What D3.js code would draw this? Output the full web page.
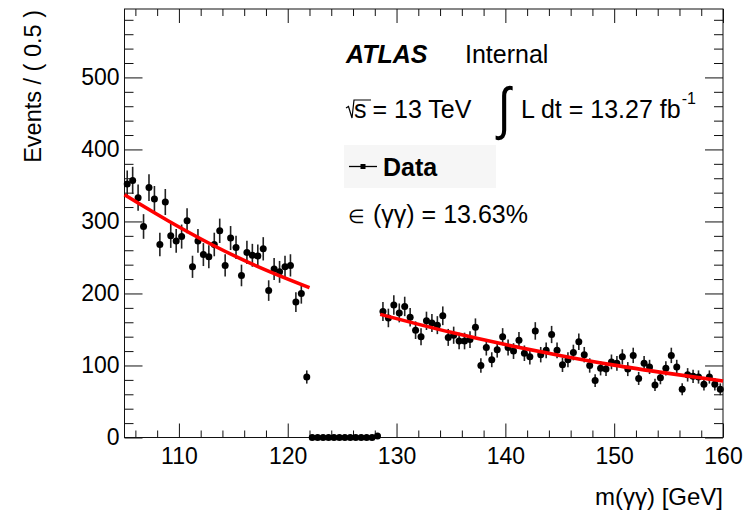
<!DOCTYPE html>
<html>
<head>
<meta charset="utf-8">
<script src="https://cdn.jsdelivr.net/npm/d3@7"></script>
<style>
  body { margin: 0; background: #fff; }
  svg { display: block; }
  text { font-family: "Liberation Sans", Arial, Helvetica, sans-serif; fill: #000; }
</style>
</head>
<body>
<div id="chart"></div>
<script>
// diphoton mass spectrum, 0.5 GeV bins from 105 to 160 (signal region blinded)
const massRange = [105, 160];
const binWidth = 0.5;
const counts = [
  352, 357, 333, 293, 347, 331, 268, 327, 280, 273,
  279, 301, 237, 273, 254, 251, 268, 287, 239, 277,
  264, 225, 257, 253, 252, 262, 204, 234, 230, 237,
  239, 188, 200, 84,
  0, 0, 0, 0, 0, 0, 0, 0, 0, 0, 0, 0, 2,
  175, 166, 184, 173, 182, 167, 149, 140, 162, 159,
  156, 169, 139, 142, 134, 134, 136, 153, 100, 125,
  108, 122, 140, 125, 120, 135, 117, 112, 148, 115,
  121, 143, 121, 101, 108, 118, 133, 115, 100, 79,
  96, 95, 105, 103, 112, 95, 114, 82, 103, 98,
  73, 83, 96, 114, 98, 67, 87, 85, 84, 74,
  84, 74, 67
];
// background fit, sidebands
const fitLowMass = [105, 109, 113, 117, 122];
const fitLowVal = [337, 301, 268, 239, 208];
const fitHighMass = [128.5, 135, 140, 145, 150, 155, 160];
const fitHighVal = [171, 146, 129, 114, 100.5, 89, 78.5];

const xMajor = [110, 120, 130, 140, 150, 160];
const yMajor = [0, 100, 200, 300, 400, 500];

const width = 756, height = 514;
const plotL = 124.5, plotR = 723, plotT = 9, plotB = 437.5;

const svg = d3.select("#chart").append("svg")
  .attr("width", width)
  .attr("height", height);

const x = d3.scaleLinear().domain(massRange).range([plotL, plotR]);
const y = d3.scaleLinear().domain([0, 595]).range([plotB, plotT]);

const xMinor = d3.range(106, 160, 2).filter(v => !xMajor.includes(v));
const yMinor = d3.range(20, 595, 20).filter(v => !yMajor.includes(v));

// axes, ROOT style ticks pointing inward
const gx = svg.append("g").attr("transform", `translate(0,${plotB})`)
  .call(d3.axisBottom(x).tickValues(xMajor).tickSizeInner(-14).tickSizeOuter(0).tickPadding(10));
svg.append("g").attr("transform", `translate(0,${plotB})`)
  .call(d3.axisBottom(x).tickValues(xMinor).tickSizeInner(-7).tickSizeOuter(0).tickFormat(""));
svg.append("g").attr("transform", `translate(0,${plotT})`)
  .call(d3.axisTop(x).tickValues(xMajor).tickSizeInner(-14).tickSizeOuter(0).tickFormat(""));
svg.append("g").attr("transform", `translate(0,${plotT})`)
  .call(d3.axisTop(x).tickValues(xMinor).tickSizeInner(-7).tickSizeOuter(0).tickFormat(""));

const gy = svg.append("g").attr("transform", `translate(${plotL},0)`)
  .call(d3.axisLeft(y).tickValues(yMajor).tickSizeInner(-18).tickSizeOuter(0).tickPadding(5));
svg.append("g").attr("transform", `translate(${plotL},0)`)
  .call(d3.axisLeft(y).tickValues(yMinor).tickSizeInner(-9).tickSizeOuter(0).tickFormat(""));
svg.append("g").attr("transform", `translate(${plotR},0)`)
  .call(d3.axisRight(y).tickValues(yMajor).tickSizeInner(-18).tickSizeOuter(0).tickFormat(""));
svg.append("g").attr("transform", `translate(${plotR},0)`)
  .call(d3.axisRight(y).tickValues(yMinor).tickSizeInner(-9).tickSizeOuter(0).tickFormat(""));

svg.selectAll(".domain").remove();
svg.selectAll(".tick line").attr("stroke", "#111").attr("stroke-width", 1);
gx.selectAll("text").style("font-size", "23px").attr("fill", "#000");
gy.selectAll("text").style("font-size", "23px").attr("fill", "#000");

svg.append("rect")
  .attr("x", plotL).attr("y", plotT)
  .attr("width", plotR - plotL).attr("height", plotB - plotT)
  .attr("fill", "none").attr("stroke", "#111").attr("stroke-width", 1);

// axis titles
svg.append("text")
  .attr("x", plotR).attr("y", 505)
  .attr("text-anchor", "end")
  .style("font-size", "24px")
  .text("m(γγ) [GeV]");

svg.append("text")
  .attr("transform", "translate(41,10) rotate(-90)")
  .attr("text-anchor", "end")
  .style("font-size", "23.5px")
  .text("Events / ( 0.5 )");

// data points with poisson error bars
const points = counts.map((c, i) => ({ m: massRange[0] + (i + 0.5) * binWidth, n: c }));

svg.append("g").selectAll("line")
  .data(points.filter(d => d.n > 0))
  .enter().append("line")
  .attr("x1", d => x(d.m)).attr("x2", d => x(d.m))
  .attr("y1", d => y(d.n - Math.sqrt(d.n)))
  .attr("y2", d => y(d.n + Math.sqrt(d.n)))
  .attr("stroke", "#222")
  .attr("stroke-width", 1.6);

svg.append("g").selectAll("circle")
  .data(points)
  .enter().append("circle")
  .attr("cx", d => x(d.m))
  .attr("cy", d => y(d.n))
  .attr("r", 3.5)
  .attr("fill", "#000");

// fit curves
const fitLine = d3.line()
  .x(d => x(d[0]))
  .y(d => y(d[1]))
  .curve(d3.curveMonotoneX);

[d3.zip(fitLowMass, fitLowVal), d3.zip(fitHighMass, fitHighVal)].forEach(seg => {
  svg.append("path")
    .datum(seg)
    .attr("d", fitLine)
    .attr("fill", "none")
    .attr("stroke", "#ff0000")
    .attr("stroke-width", 3.6);
});

// labels
const lab = svg.append("g");
lab.append("text")
  .attr("x", 346).attr("y", 63)
  .style("font-size", "25px").style("font-weight", "bold").style("font-style", "italic")
  .text("ATLAS");
lab.append("text")
  .attr("x", 465).attr("y", 63)
  .style("font-size", "25px")
  .text("Internal");

// sqrt(s) = 13 TeV, root sign drawn as a path
lab.append("path")
  .attr("d", "M346,108 L348.5,106.5 L352,118 L354,100 L371,100")
  .attr("fill", "none")
  .attr("stroke", "#000")
  .attr("stroke-width", 1.2);
const sText = lab.append("text")
  .attr("x", 354).attr("y", 118)
  .style("font-size", "25px")
  .text("s");
const sLen = sText.node().getComputedTextLength();
lab.append("text")
  .attr("x", 354 + sLen + 6).attr("y", 118)
  .style("font-size", "25px")
  .text("= 13 TeV");

lab.append("text")
  .attr("x", 498).attr("y", 128)
  .attr("transform", "translate(498,128) scale(1,1.25) translate(-498,-128)")
  .style("font-size", "46px")
  .text("∫");
const lumi = lab.append("text")
  .attr("x", 521).attr("y", 118)
  .style("font-size", "25px")
  .text("L dt = 13.27 fb");
const lumiLen = lumi.node().getComputedTextLength();
lab.append("text")
  .attr("x", 521 + lumiLen + 1).attr("y", 104)
  .style("font-size", "16px")
  .text("-1");

// legend
lab.append("rect")
  .attr("x", 344).attr("y", 145)
  .attr("width", 152).attr("height", 43)
  .attr("fill", "#f6f6f6");
lab.append("line")
  .attr("x1", 349).attr("x2", 377)
  .attr("y1", 166.5).attr("y2", 166.5)
  .attr("stroke", "#000").attr("stroke-width", 1.3);
lab.append("rect")
  .attr("x", 360.5).attr("y", 164)
  .attr("width", 5).attr("height", 5)
  .attr("fill", "#000");
lab.append("text")
  .attr("x", 383).attr("y", 176)
  .style("font-size", "25px").style("font-weight", "bold")
  .text("Data");

const eff = lab.append("text")
  .attr("x", 348).attr("y", 223)
  .style("font-size", "25px");
eff.append("tspan").style("font-size", "19px").text("∈");
eff.append("tspan").attr("dx", 8).text("(γγ) = 13.63%");
</script>
</body>
</html>
